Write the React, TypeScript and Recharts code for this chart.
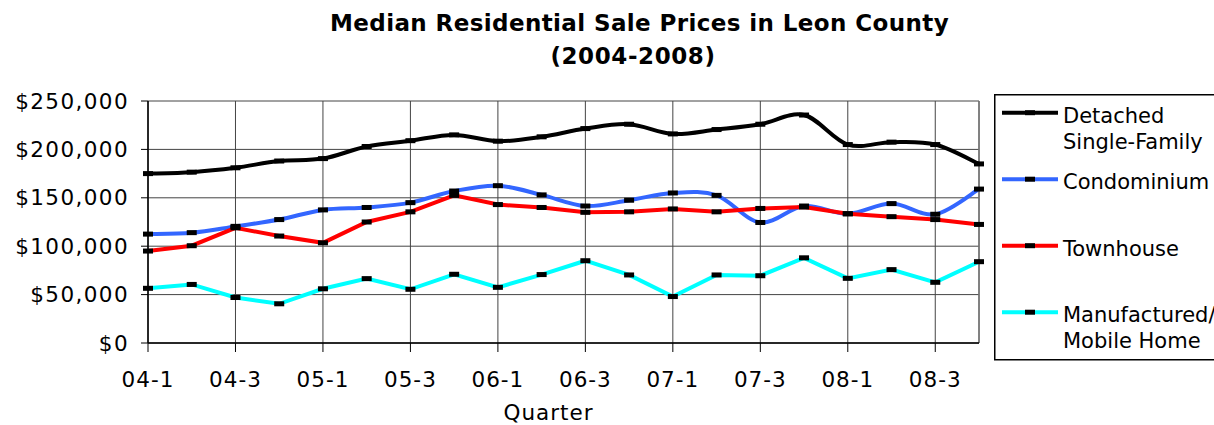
import React from 'react';
import {
  LineChart, Line, XAxis, YAxis, CartesianGrid, Legend, ReferenceLine,
} from 'recharts';

const quarters = ['04-1', '04-2', '04-3', '04-4', '05-1', '05-2', '05-3', '05-4', '06-1', '06-2',
  '06-3', '06-4', '07-1', '07-2', '07-3', '07-4', '08-1', '08-2', '08-3', '08-4'];
const tickLabels = ['04-1', '04-3', '05-1', '05-3', '06-1', '06-3', '07-1', '07-3', '08-1', '08-3'];
const yTicks = [0, 50000, 100000, 150000, 200000, 250000];

const detached = [175000, 176500, 181000, 188000, 190500, 203000, 209000, 215000, 208500, 213000,
  221500, 226000, 216000, 220500, 226000, 235500, 205000, 207500, 205000, 185000];
const condominium = [112500, 114000, 120500, 127500, 137500, 140000, 145000, 157000, 162500, 153000,
  141500, 147500, 155000, 152500, 124500, 141500, 133500, 144000, 133000, 159000];
const townhouse = [95000, 100500, 119000, 110500, 103500, 125000, 135500, 152500, 143000, 140000,
  135000, 135500, 138500, 135500, 139000, 140500, 133500, 130500, 127500, 122500];
const manufactured = [56500, 60500, 47000, 40500, 56000, 66500, 55500, 71000, 57500, 70700,
  85000, 70300, 48000, 70300, 69500, 88000, 66800, 75800, 62700, 84000];

const seriesNames = ['Detached Single-Family', 'Condominium', 'Townhouse', 'Manufactured/ Mobile Home'];
const legendLines = [['Detached', 'Single-Family'], ['Condominium'], ['Townhouse'], ['Manufactured/', 'Mobile Home']];
const titleLines = ['Median Residential Sale Prices in Leon County', '(2004-2008)'];
const xTitle = 'Quarter';

const data = quarters.map((q, i) => ({
  q,
  detached: detached[i],
  condominium: condominium[i],
  townhouse: townhouse[i],
  manufactured: manufactured[i],
}));

const FONT = '"DejaVu Sans", Verdana, sans-serif';

// Excel-like smoothing (uniform Catmull-Rom as cubic Bezier)
const excelSmooth: any = (context: any) => {
  let pts: number[][] = [];
  return {
    areaStart() {},
    areaEnd() {},
    lineStart() { pts = []; },
    point(x: number, y: number) { pts.push([+x, +y]); },
    lineEnd() {
      const n = pts.length;
      if (!n) return;
      context.moveTo(pts[0][0], pts[0][1]);
      for (let i = 0; i < n - 1; i++) {
        const p0 = pts[i - 1] || pts[i];
        const p1 = pts[i];
        const p2 = pts[i + 1];
        const p3 = pts[i + 2] || p2;
        context.bezierCurveTo(
          p1[0] + (p2[0] - p0[0]) / 6, p1[1] + (p2[1] - p0[1]) / 6,
          p2[0] - (p3[0] - p1[0]) / 6, p2[1] - (p3[1] - p1[1]) / 6,
          p2[0], p2[1],
        );
      }
    },
  };
};

const DashDot = (props: any) => {
  const { cx, cy, index } = props;
  if (cx == null || cy == null) return <g key={index} />;
  return <rect key={index} x={cx - 5} y={cy - 2.5} width={10} height={5} fill="#000" />;
};

const renderLegend = (props: any) => {
  const payload = props.payload || [];
  return (
    <svg width={240} height={267} style={{ display: 'block', overflow: 'visible' }}>
      <rect x={0.75} y={0.75} width={250} height={265} fill="#fff" stroke="#000" strokeWidth={1.5} />
      {payload.map((entry: any) => {
        const i = seriesNames.indexOf(entry.value);
        if (i < 0) return null;
        const sy = 18.7 + i * 66.5;
        const lines = legendLines[i];
        return (
          <g key={i}>
            <line x1={8} x2={64} y1={sy} y2={sy} stroke={entry.color} strokeWidth={4} />
            <rect x={31} y={sy - 2.5} width={10} height={5} fill="#000" />
            {lines.map((t: string, j: number) => (
              <text key={j} x={69} y={sy + 10 + j * 26} fontSize={21} fontFamily={FONT} fill="#000">{t}</text>
            ))}
          </g>
        );
      })}
    </svg>
  );
};

const fmt = (v: number) => '$' + v.toLocaleString('en-US');

export default function App() {
  return (
    <div style={{ position: 'absolute', left: 0, top: 0, width: 1214, height: 425, background: '#fff', overflow: 'hidden' }}>
      <div style={{ position: 'absolute', left: 330, width: 600, top: 12, textAlign: 'center', fontFamily: FONT, fontWeight: 'bold', fontSize: 23, lineHeight: '23px', letterSpacing: 0.4, color: '#000', whiteSpace: 'nowrap' }}>{titleLines[0]}</div>
      <div style={{ position: 'absolute', left: 333, width: 600, top: 44.5, textAlign: 'center', fontFamily: FONT, fontWeight: 'bold', fontSize: 23, lineHeight: '23px', letterSpacing: 0.6, color: '#000', whiteSpace: 'nowrap' }}>{titleLines[1]}</div>
      <LineChart width={1214} height={425} data={data} margin={{ top: 101, right: 235, bottom: 0, left: 0 }}>
        <CartesianGrid stroke="#444" strokeWidth={1} />
        <XAxis
          dataKey="q"
          ticks={tickLabels}
          interval={0}
          height={82}
          tickSize={9}
          tickMargin={20}
          axisLine={{ stroke: '#000', strokeWidth: 1.5 }}
          tickLine={{ stroke: '#000', strokeWidth: 1 }}
          tick={{ fill: '#000', fontSize: 21.5, fontFamily: FONT, letterSpacing: 1 }}
          label={{ value: xTitle, position: 'insideBottom', offset: 5, dx: -15, fill: '#000', fontSize: 21.5, fontFamily: FONT, letterSpacing: 1 } as any}
        />
        <YAxis
          width={148}
          domain={[0, 250000]}
          ticks={yTicks}
          interval={0}
          tickSize={7}
          tickMargin={12}
          tickFormatter={fmt}
          axisLine={{ stroke: '#000', strokeWidth: 1.5 }}
          tickLine={{ stroke: '#000', strokeWidth: 1 }}
          tick={{ fill: '#000', fontSize: 21.5, fontFamily: FONT, letterSpacing: 1.4 }}
        />
        <ReferenceLine x={quarters[quarters.length - 1]} stroke="#777" strokeWidth={1.5} ifOverflow="visible" />
        <Legend
          layout="vertical"
          align="center"
          verticalAlign="middle"
          content={renderLegend}
          wrapperStyle={{ left: 994, top: 94, width: 240, height: 267 }}
        />
        <Line name={seriesNames[0]} dataKey="detached" type={excelSmooth} stroke="#000" strokeWidth={4} dot={DashDot} activeDot={false} isAnimationActive={false} />
        <Line name={seriesNames[1]} dataKey="condominium" type={excelSmooth} stroke="#3366FF" strokeWidth={4} dot={DashDot} activeDot={false} isAnimationActive={false} />
        <Line name={seriesNames[2]} dataKey="townhouse" type="linear" stroke="#FF0000" strokeWidth={4} dot={DashDot} activeDot={false} isAnimationActive={false} />
        <Line name={seriesNames[3]} dataKey="manufactured" type="linear" stroke="#00FFFF" strokeWidth={4} dot={DashDot} activeDot={false} isAnimationActive={false} />
      </LineChart>
    </div>
  );
}
